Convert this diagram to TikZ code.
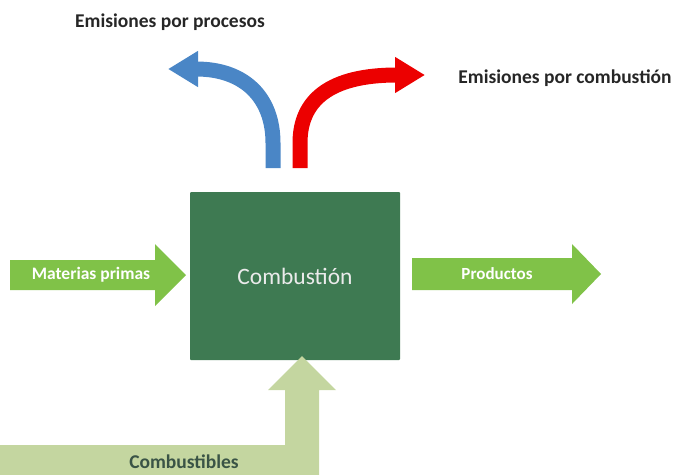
\documentclass[tikz,border=0pt]{standalone}
\usepackage{fontspec}
\setmainfont{Carlito}
\usetikzlibrary{arrows.meta}

\definecolor{boxgreen}{RGB}{62,122,82}
\definecolor{flowgreen}{RGB}{128,194,72}
\definecolor{fuelgreen}{RGB}{196,214,160}
\definecolor{procblue}{RGB}{74,134,198}
\definecolor{combred}{RGB}{236,0,0}
\definecolor{fueltext}{RGB}{58,84,70}

\begin{document}
\begin{tikzpicture}[x=1pt,y=-1pt,
    title/.style={font=\bfseries\fontsize{19.5}{22}\selectfont,text=black!85},
    flowtext/.style={font=\bfseries\fontsize{17.5}{20}\selectfont,text=white},
    bendarrow/.style={line width=15pt,-{Triangle[length=30pt,width=34pt]}}]
    \useasboundingbox (0,0) rectangle (676,474);
    \clip (0,0) rectangle (676,474);

    % main block
    \node[fill=boxgreen,rounded corners=1pt,minimum width=210pt,minimum height=168pt,
      text=white!92!black,font=\fontsize{23.5}{26}\selectfont] (comb) at (295,276) {Combustión};

    % inputs and output
    \fill[flowgreen] (10,260) -- (155,260) -- (155,244) -- (186,275) -- (155,306)
      -- (155,290) -- (10,290) -- cycle;
    \fill[flowgreen] (412,258) -- (572,258) -- (572,244) -- (601,274) -- (572,304)
      -- (572,290) -- (412,290) -- cycle;
    \fill[fuelgreen] (-5,445) -- (285,445) -- (285,390) -- (268,390) -- (302,356)
      -- (336,390) -- (319,390) -- (319,480) -- (-5,480) -- cycle;

    \node[flowtext] (lblMat) at (91,275) {Materias primas};
    \node[flowtext,font=\bfseries\fontsize{17}{20}\selectfont] (lblProd) at (497,274) {Productos};
    \node[font=\bfseries\fontsize{19.5}{22}\selectfont,text=fueltext] (lblFuel) at (184,462) {Combustibles};

    % emissions
    \coordinate (procStart) at (273,168);
    \coordinate (procEnd) at (168,69);
    \coordinate (combStart) at (300,168);
    \coordinate (combEnd) at (425,75);
    \draw[bendarrow,procblue] (procStart) -- ++(0,-25) .. controls (273,98) and (245,69) .. (procEnd);
    \draw[bendarrow,combred] (combStart) -- ++(0,-25) .. controls (300,100) and (330,75) .. (combEnd);

    \node[title] (lblProc) at (170,22) {Emisiones por procesos};
    \node[title] (lblComb) at (565,78) {Emisiones por combustión};
\end{tikzpicture}
\end{document}
